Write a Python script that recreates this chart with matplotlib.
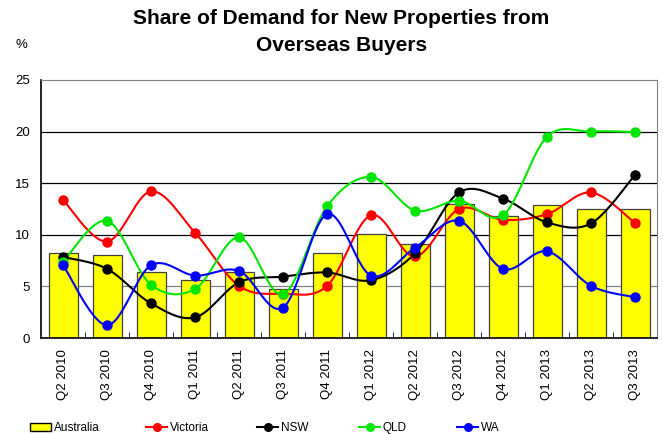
import numpy as np
import matplotlib.pyplot as plt
from matplotlib.lines import Line2D
from matplotlib.patches import Patch

plt.rcParams['font.family'] = ['Liberation Sans', 'DejaVu Sans']

quarters = ['Q2 2010', 'Q3 2010', 'Q4 2010', 'Q1 2011', 'Q2 2011', 'Q3 2011', 'Q4 2011',
            'Q1 2012', 'Q2 2012', 'Q3 2012', 'Q4 2012', 'Q1 2013', 'Q2 2013', 'Q3 2013']
australia = [8.2, 8.05, 6.4, 5.65, 6.35, 4.75, 8.2, 10.1, 9.1, 12.95, 11.85, 12.85, 12.5, 12.45]
victoria = [13.35, 9.35, 14.2, 10.2, 5.05, 4.3, 5.05, 11.9, 7.9, 12.5, 11.45, 12.0, 14.1, 11.15]
nsw = [7.85, 6.7, 3.35, 2.0, 5.4, 5.95, 6.35, 5.6, 8.2, 14.1, 13.5, 11.2, 11.1, 15.8]
qld = [7.4, 11.35, 5.15, 4.75, 9.75, 4.25, 12.75, 15.6, 12.35, 13.3, 11.9, 19.5, 20.0, 19.95]
wa = [7.05, 1.25, 7.05, 6.05, 6.5, 2.95, 12.0, 6.05, 8.75, 11.35, 6.7, 8.4, 5.05, 3.95]


def smooth(x, y, n=30):
    # Catmull-Rom style smoothing, like Excel's smoothed line
    x = np.asarray(x, float)
    y = np.asarray(y, float)
    px = np.concatenate([[x[0]], x, [x[-1]]])
    py = np.concatenate([[y[0]], y, [y[-1]]])
    xs, ys = [], []
    t = np.linspace(0, 1, n)
    for i in range(1, len(px) - 2):
        p0, p1, p2, p3 = (np.array([px[i + k], py[i + k]]) for k in (-1, 0, 1, 2))
        c1 = p1 + (p2 - p0) / 6
        c2 = p2 - (p3 - p1) / 6
        b = ((1 - t) ** 3)[:, None] * p1 + (3 * (1 - t) ** 2 * t)[:, None] * c1 \
            + (3 * (1 - t) * t ** 2)[:, None] * c2 + (t ** 3)[:, None] * p2
        xs.extend(b[:, 0])
        ys.extend(b[:, 1])
    return np.array(xs), np.array(ys)


fig = plt.figure(figsize=(6.63, 4.34), dpi=100)
ax = fig.add_axes([0.062, 0.221, 0.929, 0.595])

x = np.arange(len(quarters))
for yv in [5, 10, 15, 20]:
    ax.axhline(yv, color='#808080' if yv == 5 else 'black', lw=0.9, zorder=0.5)
ax.bar(x, australia, width=0.66, color='#ffff00', edgecolor='#404040', linewidth=0.9, zorder=2)

series = [(victoria, '#ff0000', 'Victoria'), (nsw, '#000000', 'NSW'),
          (qld, '#00e600', 'QLD'), (wa, '#0000ff', 'WA')]
for vals, col, name in series:
    sx, sy = smooth(x, vals)
    ax.plot(sx, sy, color=col, lw=1.5, zorder=3)
    ax.plot(x, vals, 'o', color=col, ms=6.5, zorder=4)

ax.set_xlim(-0.5, len(quarters) - 0.5)
ax.set_ylim(0, 25)
ax.set_yticks([0, 5, 10, 15, 20, 25])
ax.set_xticks(x)
ax.set_xticklabels(quarters, rotation=90, fontsize=9.5)
ax.set_xticks(np.arange(0.5, len(quarters) - 1, 1), minor=True)
ax.tick_params(axis='x', which='major', length=0, pad=8)
ax.tick_params(axis='x', which='minor', direction='in', length=4, color='black')
ax.tick_params(axis='y', length=0, labelsize=9.5, pad=8)
for s in ['top', 'right']:
    ax.spines[s].set_color('#808080')
for s in ['left', 'bottom']:
    ax.spines[s].set_color('black')
    ax.spines[s].set_linewidth(1.2)

fig.text(0.515, 0.958, 'Share of Demand for New Properties from',
         ha='center', va='center', fontsize=15, fontweight='bold')
fig.text(0.515, 0.895, 'Overseas Buyers',
         ha='center', va='center', fontsize=15, fontweight='bold')
fig.text(0.033, 0.896, '%', ha='center', va='center', fontsize=9.5)

handles = [Patch(facecolor='#ffff00', edgecolor='black', label='Australia')]
for vals, col, name in series:
    handles.append(Line2D([0], [0], color=col, marker='o', ms=5.5, lw=1.5, label=name))
starts = [30, 146, 257, 359, 457]
for h, xs in zip(handles, starts):
    fig.legend(handles=[h], loc='center left', bbox_to_anchor=(xs / 663, 0.014),
               frameon=False, fontsize=8.5, borderpad=0, borderaxespad=0,
               handlelength=1.8, handletextpad=0.2)

fig.savefig('out.png', dpi=100)
